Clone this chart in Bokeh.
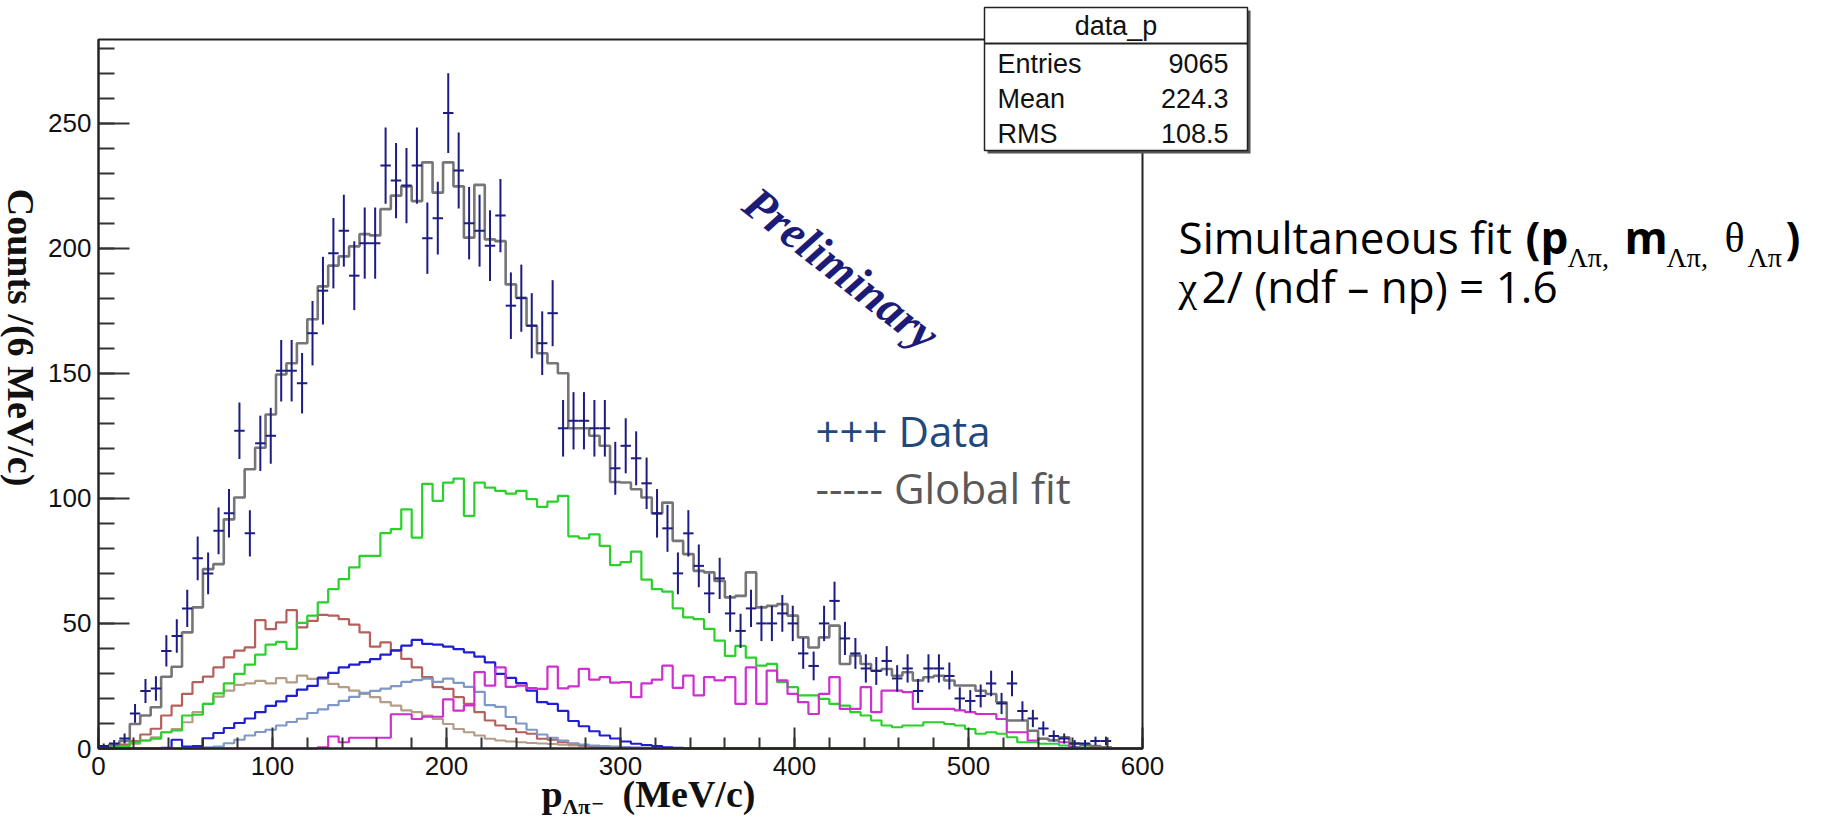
import math
from bokeh.plotting import figure
from bokeh.models import Range1d, FixedTicker, Label, BoxAnnotation
from bokeh.embed import file_html
from bokeh.resources import INLINE

# ---------------- data ----------------
BIN_WIDTH = 6          # MeV/c per bin
N_BINS = 100
X_MAX = 600
Y_MAX = 283.4

data_counts = [1, 2, 4, 14, 23, 24, 39, 45, 56, 76,
               70, 87, 94, 127, 86, 122, 125, 151, 151, 146,
               166, 183, 198, 207, 189, 202, 202, 233, 227, 225,
               233, 204, 212, 254, 231, 210, 207, 201, 213, 177,
               180, 169, 162, 174, 128, 131, 131, 128, 128, 112,
               121, 116, 106, 94, 88, 70, 86, 73, 62, 68,
               54, 47, 56, 50, 50, 54, 50, 38, 33, 50,
               59, 44, 38, 32, 31, 35, 28, 32, 23, 32,
               32, 29, 20, 19, 21, 26, 18, 26, 15, 12,
               8, 5, 4, 2, 2, 3, 3, 0, 0, 0]

global_fit = [0.5, 1.5, 3, 9.8, 13.2, 16.5, 28.7, 32.7, 46.4, 56.4,
              71.7, 73.7, 91.6, 100.3, 111.6, 120.2, 133.5, 149.5, 154, 162,
              171.6, 184.7, 193, 196.7, 200.7, 205.6, 205.1, 215.6, 221, 224.7,
              218.8, 234.3, 222.2, 234.3, 224.7, 204.2, 225.3, 203.5, 202.8, 185.5,
              180.2, 169, 158, 154, 150, 128, 128, 125, 121, 106.5,
              106.3, 103.6, 100.3, 94, 98.3, 83, 77.7, 71, 70.4, 67,
              60.4, 61, 70.4, 56.4, 57, 57.7, 53.1, 44.4, 40.4, 44.4,
              49.1, 33.8, 37.2, 33.8, 31.1, 31.8, 29.1, 30.5, 27.2, 28.5,
              29.1, 27.2, 25.2, 25.2, 23.1, 21.8, 18.5, 11.2, 11.2, 7.1,
              3.9, 3.3, 4.5, 2, 1.5, 1, 0.5, 0, 0, 0]

comp_green = [0.3, 0.5, 1, 2.5, 3.2, 3.9, 6.5, 7.2, 13.2, 13.5,
              17.8, 22, 26, 29.8, 33.5, 37.5, 41.5, 42.6, 39.8, 50.2,
              53.1, 58.4, 63.7, 67.7, 72.4, 77, 77, 86.1, 87.7, 95.6,
              84.3, 105.8, 99, 106.3, 107.9, 93, 106.3, 104.3, 103, 101.9,
              103, 99.7, 96.6, 98.7, 101, 84.8, 84, 85.6, 81, 73.3,
              74.5, 78.7, 67.5, 63.7, 62.7, 56, 52.4, 51.7, 47.8, 43.1,
              37, 41, 36.3, 33.1, 33.8, 26.5, 24.5, 21.2, 21.2, 19.8,
              17.8, 17.1, 14.5, 13.2, 11.2, 9.2, 8.5, 9.2, 9.2, 10.5,
              10.5, 9.8, 9.2, 7.8, 5.9, 6.5, 5.9, 4.5, 2.5, 2.5,
              1.9, 1.9, 1.2, 0.5, 0.5, 0.5, 0.5, 0, 0, 0]

comp_brown = [0.3, 0.8, 1.6, 3, 5.6, 7.9, 13.2, 17.1, 21.8, 26.5,
              28.7, 32.4, 36.4, 39.1, 40.4, 51.3, 47.7, 50.4, 55.3, 48.4,
              51, 53.4, 53.1, 51.7, 49.5, 46.4, 40.7, 42.4, 39.1, 35.8,
              32.4, 28.5, 24.5, 23.8, 20.5, 17.8, 14.5, 11.2, 9.2, 7.8,
              6.5, 5.9, 3.9, 3.5, 2.5, 1.9, 1.2, 0.8, 0.6, 0.5,
              0.4, 0.3, 0.3, 0.2, 0.2, 0.1, 0, 0, 0, 0] + [0] * 40

comp_tan = [0.2, 0.5, 1, 1.9, 3.2, 4.5, 6.5, 7.8, 10.5, 14.5,
            17.8, 20.7, 23.1, 25.4, 26, 27, 26, 28.1, 26.4, 29.1,
            27.8, 27.8, 25.8, 24.5, 23.1, 21.8, 20.5, 18.5, 17.1, 15.2,
            14.5, 13.2, 11.8, 9.8, 7.8, 6.5, 5.2, 3.9, 3.2, 2.8,
            2.5, 2.2, 2, 1.8, 1.5, 1.2, 1, 0.6, 0.3, 0] + [0] * 50

comp_blue = [0, 0, 0, 0, 0, 0, 0.3, 3.5, 0.8, 1,
             4.1, 6.2, 8.2, 10.2, 12, 14.5, 17, 18.8, 21, 23.5,
             25, 28.3, 30.2, 32.4, 33.5, 34.5, 35.7, 37.5, 39.2, 41.1,
             43.4, 41.8, 41.5, 40.7, 39.7, 38.4, 36.7, 34.4, 29.8, 28.2,
             26.1, 23.1, 18.5, 17.8, 15, 11, 8.9, 6.9, 5.2, 4,
             2.8, 1.9, 1.4, 1, 0.5, 0.3, 0, 0, 0, 0] + [0] * 40

comp_steel = [0, 0, 0, 0, 0, 0, 0, 0, 0.3, 0.5,
              0.5, 0.8, 2.1, 3.5, 5.2, 6.6, 7.5, 9.2, 10.6, 11.9,
              14.2, 15.6, 17.3, 19, 20.6, 22.2, 23, 23.9, 24.9, 26.6,
              27.3, 27.9, 26.6, 27.9, 26.2, 24.6, 22.6, 17.3, 16.6, 12.6,
              10, 7.5, 5.6, 4.3, 3.2, 2.1, 1.6, 1.2, 1, 0.8,
              0.6, 0.4, 0.3, 0, 0, 0, 0, 0, 0, 0] + [0] * 40

comp_magenta = ([0] * 21 +
                [0.5, 4.8, 2.5, 4.3, 4.3, 4.3, 4.3, 13.7, 13.7] +
                [11.8, 12.7, 12.7, 19.6, 15.1, 17.2, 30.5, 25.1, 32.4, 24.6] +
                [25.1, 24.1, 23.8, 32.7, 24, 24.8, 31.8, 27.5, 28.5, 26.3] +
                [26.5, 20.5, 26, 27.5, 33.1, 24.2, 29.1, 21.2, 28.5, 27.2] +
                [28.5, 17.8, 32.4, 17.8, 31.1, 27.2, 21.8, 18.5, 13.8, 21.8] +
                [28.5, 15.8, 15.8, 24.5, 14.5, 23.1, 23.1, 22.5, 15.8, 15.8] +
                [15.8, 15.8, 15.2, 14.5, 13.8, 13.8, 11.8, 6.5, 6.5, 3.2] +
                [3.9, 3.2, 2.5, 0.5] + [0] * 6)

x_ticks = [0, 100, 200, 300, 400, 500, 600]
x_minor = list(range(0, 601, 20))
y_ticks = [0, 50, 100, 150, 200, 250]
y_minor = list(range(0, 281, 10))

stats_title = "data_p"
stats_names = ["Entries", "Mean", "RMS"]
stats_values = ["9065", "224.3", "108.5"]

# ---------------- layout (pixels of the page) ----------------
W, H = 1828, 821
FL, FR, FT, FB = 98, 1142, 39, 748          # ROOT frame inside the page
KX = (FR - FL) / X_MAX                      # px per MeV/c
KY = (FB - FT) / Y_MAX                      # px per count
X0 = -FL / KX
X1 = X0 + W / KX
Y0 = -(H - FB) / KY
Y1 = Y0 + H / KY


def sx(X):
    return X0 + X / KX


def sy(Y):
    return Y0 + (H - Y) / KY


p = figure(width=W, height=H, x_range=Range1d(X0, X1), y_range=Range1d(Y0, Y1),
           output_backend="svg", toolbar_location=None,
           min_border_left=0, min_border_right=0, min_border_top=0, min_border_bottom=0)
p.title.visible = False
p.background_fill_color = "white"
p.border_fill_color = "white"
p.xgrid.visible = False
p.ygrid.visible = False
p.outline_line_color = None

AX = "#333333"
xa = p.xaxis[0]
xa.fixed_location = 0
xa.bounds = (0, X_MAX)
xa.ticker = FixedTicker(ticks=x_ticks, minor_ticks=x_minor)
xa.major_tick_in, xa.major_tick_out = 21, 0
xa.minor_tick_in, xa.minor_tick_out = 11, 0
ya = p.yaxis[0]
ya.fixed_location = 0
ya.bounds = (0, Y_MAX)
ya.ticker = FixedTicker(ticks=y_ticks, minor_ticks=y_minor)
ya.major_tick_in, ya.major_tick_out = 31, 0
ya.minor_tick_in, ya.minor_tick_out = 16, 0
for ax in (xa, ya):
    ax.axis_line_color = AX
    ax.axis_line_width = 2
    ax.major_tick_line_color = AX
    ax.major_tick_line_width = 2
    ax.minor_tick_line_color = AX
    ax.minor_tick_line_width = 2
    ax.major_label_text_font = "Liberation Sans"
    ax.major_label_text_font_size = "26px"
    ax.major_label_text_color = "#111111"
xa.major_label_standoff = 8
ya.major_label_standoff = 7

edges = [BIN_WIDTH * i for i in range(N_BINS + 1)]


def hist(vals, color, width=2.2):
    p.step(x=edges, y=list(vals) + [vals[-1]], mode="after",
           line_color=color, line_width=width)


hist(comp_tan, "#b59c86")
hist(comp_brown, "#b5605c")
hist(comp_steel, "#7d98c9")
hist(comp_green, "#2bd12b")
hist(comp_blue, "#1e1ed2")
hist(comp_magenta, "#cf2fcf")
hist(global_fit, "#767676", 2.6)

DATA = "#1c1c82"
vx, vy0, vy1, hx0, hx1, hy = [], [], [], [], [], []
for i, n in enumerate(data_counts):
    if n <= 0:
        continue
    e = math.sqrt(n)
    c = BIN_WIDTH * (i + 0.5)
    vx.append(c); vy0.append(n - e); vy1.append(n + e)
    hx0.append(BIN_WIDTH * i); hx1.append(BIN_WIDTH * (i + 1)); hy.append(n)
p.segment(x0=vx, y0=vy0, x1=vx, y1=vy1, line_color=DATA, line_width=2)
p.segment(x0=hx0, y0=hy, x1=hx1, y1=hy, line_color=DATA, line_width=2)

# ROOT frame (top and right edges; left/bottom coincide with the axes)
p.add_layout(BoxAnnotation(left=0, right=X_MAX, bottom=0, top=Y_MAX,
                           fill_alpha=0, line_color="#222222", line_alpha=1,
                           line_width=2))


def label(X, Y, text, font, size, color="black", style="normal",
          align="left", angle=0):
    """X: pixel of the anchor (left/center/right), Y: pixel of the text's middle."""
    p.add_layout(Label(x=sx(X), y=sy(Y), text=text, text_font=font,
                       text_font_size=f"{size}px", text_font_style=style,
                       text_color=color, text_align=align, text_baseline="middle",
                       angle=angle, angle_units="deg"))


# axis titles
label(20, 337, "Counts /(6 MeV/c)", "Liberation Serif", 38, "#111111", "bold",
      "center", -90)
label(541, 793, "p", "Liberation Serif", 38, "#111111", "bold")
label(562, 806, "Λπ", "Liberation Serif", 22, "#111111", "bold")
label(591, 803, "−", "Liberation Serif", 22, "#111111", "bold")
label(622, 793, "(MeV/c)", "Liberation Serif", 38, "#111111", "bold")

# Preliminary watermark
label(841, 268, "Preliminary", "Liberation Serif", 47, "#1c1c78", "bold italic",
      "center", -38)

# slide legend texts
label(815, 430, "+++ Data", "Open Sans", 42, "#1f497d")
label(815, 487, "----- Global fit", "Open Sans", 42, "#595959")

# right-hand texts
C1, C2 = 236, 285
label(1178, C1, "Simultaneous fit", "Open Sans", 44)
label(1525, C1, "(p", "Open Sans", 44, style="bold")
label(1567, C1 + 21, "Λπ,", "Liberation Serif", 28)
label(1624, C1, "m", "Open Sans", 44, style="bold")
label(1666, C1 + 21, "Λπ,", "Liberation Serif", 28)
label(1724, C1 + 1, "θ", "Liberation Serif", 42)
label(1747, C1 + 21, "Λπ", "Liberation Serif", 28)
label(1785, C1, ")", "Open Sans", 44, style="bold")
label(1178, C2 + 1, "χ", "Liberation Serif", 42)
label(1201, C2, "2/ (ndf – np) = 1.6", "Open Sans", 44)

# stats box
p.add_layout(BoxAnnotation(left=sx(987), right=sx(1250), top=sy(10), bottom=sy(153),
                           fill_color="#555555", fill_alpha=1, line_alpha=0))
p.add_layout(BoxAnnotation(left=sx(984), right=sx(1247), top=sy(7), bottom=sy(150),
                           fill_color="white", fill_alpha=1, line_color="#222222",
                           line_alpha=1, line_width=1.5))
p.add_layout(BoxAnnotation(left=sx(984), right=sx(1247), top=sy(42.5), bottom=sy(43.5),
                           fill_color="#222222", fill_alpha=1, line_color="#222222",
                           line_alpha=1, line_width=1))
label(1115.5, 25, stats_title, "Liberation Sans", 27, "#111111", align="center")
for k, (nm, vl) in enumerate(zip(stats_names, stats_values)):
    label(997, 63 + 35 * k, nm, "Liberation Sans", 27, "#111111")
    label(1228, 63 + 35 * k, vl, "Liberation Sans", 27, "#111111", align="right")

open("out.html", "w").write(file_html(p, INLINE))
